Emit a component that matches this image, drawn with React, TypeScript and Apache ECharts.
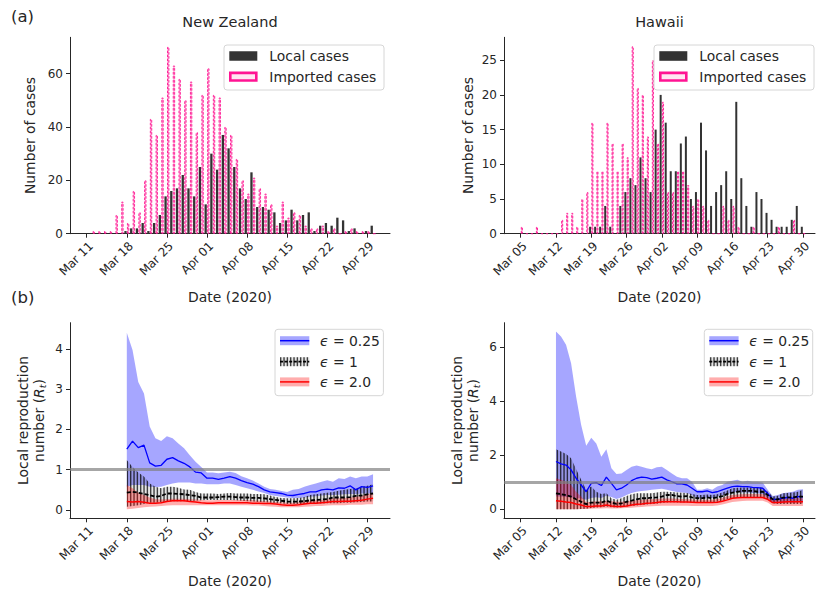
import React, { useEffect, useRef } from "react";
import * as echarts from "echarts";

const FONT = "DejaVu Sans";
const INK = "#262626";
const LABEL_SIZE = 13.9;
const TICK_SIZE = 12;

// Day numbers count from 1 March 2020 (= day 0).
const MONTH_OFFSET: Record<string, number> = { Mar: 0, Apr: 31, May: 61 };
function dayOf(label: string): number {
  const [m, d] = label.split(" ");
  return MONTH_OFFSET[m] + Number(d) - 1;
}
function labelOf(day: number): string {
  const r = Math.round(day);
  let m = "Mar";
  let d = r + 1;
  if (r >= 61) {
    m = "May";
    d = r - 60;
  } else if (r >= 31) {
    m = "Apr";
    d = r - 30;
  }
  return `${m} ${String(d).padStart(2, "0")}`;
}

// ---------- tick labels ----------
const nzTicks = ["Mar 11", "Mar 18", "Mar 25", "Apr 01", "Apr 08", "Apr 15", "Apr 22", "Apr 29"];
const hiTicks = ["Mar 05", "Mar 12", "Mar 19", "Mar 26", "Apr 02", "Apr 09", "Apr 16", "Apr 23", "Apr 30"];

// ---------- daily case counts ----------
const nzCaseStart = "Mar 12";
const nzLocal = [
  0, 0, 0, 0, 0, 0, 1, 2, 2, 4, 1, 4, 7, 14, 16, 17, 22, 17, 14, 25,
  11, 30, 24, 37, 32, 25, 17, 13, 23, 10, 10, 9, 8, 4, 5, 9, 5, 7, 8, 1,
  3, 4, 3, 6, 5, 1, 2, 0, 1, 3,
];
const nzImported = [
  1, 1, 1, 1, 7, 12, 4, 16, 8, 20, 43, 37, 51, 70, 63, 58, 50, 57, 38, 52,
  62, 52, 51, 40, 37, 28, 20, 15, 21, 17, 15, 11, 3, 12, 6, 8, 7, 3, 2, 2,
  3, 1, 2, 0, 1, 2, 1, 1, 1, 0,
];

const hiCaseStart = "Mar 05";
const hiLocal = [
  0, 0, 0, 0, 0, 0, 0, 0, 0, 0, 0, 0, 0, 0, 1, 1, 1, 4, 1, 0,
  4, 6, 8, 7, 11, 8, 6, 15, 20, 16, 9, 9, 13, 14, 5, 6, 16, 12, 4, 6,
  7, 9, 5, 19, 8, 4, 1, 6, 5, 3, 2, 1, 1, 1, 2, 4, 1,
];
const hiImported = [
  1, 0, 0, 1, 0, 0, 0, 0, 2, 3, 3, 1, 5, 6, 16, 9, 9, 16, 13, 9,
  13, 11, 27, 21, 20, 14, 25, 13, 19, 6, 6, 9, 9, 7, 4, 5, 4, 2, 0, 0,
  4, 2, 4, 1, 0, 0, 1, 0, 0, 0, 0, 1, 0, 0, 2, 0, 0,
];

// ---------- local reproduction number, New Zealand (from Mar 18) ----------
const nzRStart = "Mar 18";
const nzEps025Mid = [
  1.51, 1.71, 1.55, 1.61, 1.17, 1.09, 1.11, 1.26, 1.3, 1.22, 1.16, 1.07, 0.94, 0.92,
  0.79, 0.79, 0.76, 0.79, 0.83, 0.79, 0.73, 0.68, 0.64, 0.58, 0.5, 0.45, 0.43, 0.41, 0.37,
  0.36, 0.39, 0.41, 0.45, 0.45, 0.5, 0.52, 0.5, 0.55, 0.54, 0.6, 0.5, 0.58, 0.56, 0.6,
];
const nzEps025Hi = [
  4.4, 3.97, 3.18, 2.89, 2.07, 1.78, 1.71, 1.83, 1.78, 1.65, 1.53, 1.36, 1.2, 1.07,
  0.93, 0.93, 0.91, 0.93, 0.95, 0.92, 0.84, 0.79, 0.73, 0.66, 0.58, 0.52, 0.5, 0.47, 0.45,
  0.5, 0.52, 0.58, 0.62, 0.66, 0.7, 0.74, 0.7, 0.79, 0.77, 0.83, 0.79, 0.83, 0.83, 0.89,
];
const nzEps025Lo = [
  0.58, 0.62, 0.62, 0.62, 0.58, 0.57, 0.58, 0.62, 0.66, 0.68, 0.68, 0.68, 0.66, 0.66,
  0.64, 0.64, 0.64, 0.66, 0.66, 0.62, 0.58, 0.54, 0.5, 0.46, 0.42, 0.37, 0.35, 0.33, 0.31,
  0.3, 0.3, 0.31, 0.33, 0.34, 0.36, 0.37, 0.37, 0.38, 0.39, 0.4, 0.39, 0.41, 0.41, 0.41,
];
const nzEps1Mid = [
  0.43, 0.45, 0.43, 0.4, 0.37, 0.33, 0.35, 0.41, 0.41, 0.4, 0.39, 0.37, 0.35, 0.31,
  0.31, 0.31, 0.32, 0.33, 0.33, 0.32, 0.31, 0.31, 0.3, 0.3, 0.29, 0.27, 0.25, 0.23, 0.21,
  0.21, 0.21, 0.22, 0.24, 0.25, 0.26, 0.27, 0.31, 0.31, 0.31, 0.32, 0.35, 0.36, 0.39, 0.41,
];
const nzEps1Hi = [
  1.24, 1.07, 0.93, 0.83, 0.66, 0.58, 0.54, 0.58, 0.58, 0.55, 0.51, 0.5, 0.45, 0.41,
  0.41, 0.41, 0.4, 0.41, 0.42, 0.41, 0.41, 0.41, 0.4, 0.4, 0.39, 0.36, 0.32, 0.3, 0.29,
  0.29, 0.3, 0.32, 0.37, 0.39, 0.41, 0.43, 0.45, 0.48, 0.5, 0.52, 0.54, 0.57, 0.6, 0.64,
];
const nzEps1Lo = [
  0.08, 0.1, 0.12, 0.15, 0.18, 0.18, 0.19, 0.21, 0.22, 0.22, 0.22, 0.22, 0.23, 0.24,
  0.25, 0.25, 0.25, 0.25, 0.25, 0.24, 0.23, 0.22, 0.21, 0.2, 0.19, 0.18, 0.17, 0.16, 0.15,
  0.15, 0.15, 0.15, 0.16, 0.16, 0.16, 0.17, 0.17, 0.17, 0.18, 0.18, 0.19, 0.2, 0.21, 0.21,
];
const nzEps2Mid = [
  0.21, 0.2, 0.21, 0.19, 0.17, 0.17, 0.18, 0.21, 0.23, 0.23, 0.23, 0.21, 0.2, 0.18,
  0.17, 0.17, 0.18, 0.18, 0.18, 0.18, 0.18, 0.18, 0.17, 0.17, 0.16, 0.16, 0.15, 0.13, 0.12,
  0.12, 0.13, 0.15, 0.17, 0.17, 0.18, 0.19, 0.21, 0.21, 0.22, 0.22, 0.23, 0.24, 0.27, 0.29,
];
const nzEps2Hi = [
  0.62, 0.54, 0.43, 0.37, 0.31, 0.27, 0.26, 0.27, 0.28, 0.28, 0.28, 0.27, 0.26, 0.25,
  0.24, 0.24, 0.25, 0.25, 0.25, 0.25, 0.25, 0.25, 0.24, 0.23, 0.22, 0.21, 0.2, 0.19, 0.18,
  0.18, 0.19, 0.21, 0.23, 0.24, 0.25, 0.26, 0.29, 0.29, 0.3, 0.31, 0.33, 0.35, 0.39, 0.43,
];
const nzEps2Lo = [
  0.02, 0.03, 0.05, 0.07, 0.08, 0.09, 0.1, 0.11, 0.12, 0.12, 0.12, 0.12, 0.12, 0.12,
  0.12, 0.12, 0.12, 0.12, 0.12, 0.12, 0.12, 0.12, 0.11, 0.11, 0.1, 0.09, 0.08, 0.07, 0.07,
  0.07, 0.07, 0.08, 0.09, 0.1, 0.1, 0.11, 0.12, 0.12, 0.12, 0.13, 0.13, 0.13, 0.14, 0.14,
];

// ---------- local reproduction number, Hawaii (from Mar 12) ----------
const hiRStart = "Mar 12";
const hiEps025Mid = [
  1.77, 1.68, 1.64, 1.46, 1.15, 0.9, 0.65, 0.96, 0.99, 0.88, 1.19, 0.96, 0.72, 0.78, 0.9, 1.06, 1.15, 1.19, 1.17, 1.12,
  1.15, 1.19, 1.09, 1.02, 0.94, 0.94, 0.9, 0.78, 0.65, 0.65, 0.68, 0.62, 0.65, 0.72, 0.78,
  0.84, 0.86, 0.84, 0.84, 0.81, 0.8, 0.78, 0.59, 0.37, 0.37, 0.41, 0.44, 0.41, 0.47, 0.47,
];
const hiEps025Hi = [
  6.58, 6.4, 6.09, 5.41, 4.17, 3.12, 2.35, 2.65, 2.44, 1.95, 2.22, 1.52, 1.31, 1.33, 1.46, 1.58, 1.62, 1.58, 1.52, 1.48,
  1.56, 1.58, 1.46, 1.33, 1.21, 1.15, 1.15, 1.02, 0.72, 0.72, 0.78, 0.72, 0.84, 0.9, 1.02,
  1.06, 1.09, 1.02, 1.06, 1.02, 1.02, 0.99, 0.72, 0.49, 0.53, 0.59, 0.62, 0.65, 0.72, 0.74,
];
const hiEps025Lo = [
  0.47, 0.47, 0.46, 0.44, 0.42, 0.4, 0.35, 0.42, 0.45, 0.42, 0.5, 0.46, 0.38, 0.44, 0.53, 0.6, 0.65, 0.68, 0.7, 0.72,
  0.74, 0.76, 0.72, 0.68, 0.64, 0.62, 0.6, 0.52, 0.42, 0.41, 0.44, 0.42, 0.47, 0.52, 0.57,
  0.62, 0.64, 0.62, 0.62, 0.6, 0.59, 0.57, 0.42, 0.22, 0.22, 0.24, 0.26, 0.24, 0.26, 0.26,
];
const hiEps1Mid = [
  0.59, 0.56, 0.52, 0.47, 0.37, 0.28, 0.19, 0.25, 0.25, 0.25, 0.32, 0.25, 0.2, 0.22, 0.28, 0.32, 0.37, 0.41, 0.41, 0.43,
  0.44, 0.47, 0.53, 0.53, 0.49, 0.47, 0.49, 0.44, 0.41, 0.41, 0.44, 0.41, 0.44, 0.49, 0.57,
  0.62, 0.65, 0.68, 0.68, 0.68, 0.65, 0.65, 0.53, 0.37, 0.37, 0.43, 0.44, 0.44, 0.47, 0.47,
];
const hiEps1Hi = [
  2.22, 2.14, 2.05, 1.89, 1.48, 1.09, 0.72, 0.84, 0.65, 0.57, 0.59, 0.41, 0.35, 0.41, 0.49, 0.56, 0.59, 0.59, 0.59, 0.59,
  0.62, 0.65, 0.65, 0.64, 0.62, 0.61, 0.6, 0.57, 0.53, 0.53, 0.55, 0.53, 0.56, 0.62, 0.7,
  0.78, 0.8, 0.81, 0.81, 0.81, 0.81, 0.81, 0.65, 0.47, 0.5, 0.59, 0.6, 0.62, 0.65, 0.72,
];
const hiEps1Lo = [
  0, 0, 0, 0, 0, 0.01, 0.02, 0.05, 0.07, 0.08, 0.1, 0.08, 0.07, 0.08, 0.1, 0.12, 0.14, 0.16, 0.18, 0.2,
  0.21, 0.23, 0.25, 0.26, 0.25, 0.25, 0.25, 0.25, 0.25, 0.25, 0.26, 0.25, 0.28, 0.32, 0.37,
  0.41, 0.43, 0.44, 0.44, 0.44, 0.44, 0.44, 0.35, 0.22, 0.2, 0.2, 0.2, 0.2, 0.2, 0.2,
];
const hiEps2Mid = [
  0.32, 0.3, 0.27, 0.25, 0.2, 0.16, 0.1, 0.1, 0.12, 0.12, 0.16, 0.12, 0.1, 0.1, 0.12, 0.16, 0.19, 0.2, 0.22, 0.23,
  0.25, 0.28, 0.28, 0.28, 0.28, 0.27, 0.27, 0.26, 0.25, 0.25, 0.25, 0.25, 0.26, 0.3, 0.35,
  0.41, 0.43, 0.44, 0.44, 0.44, 0.44, 0.44, 0.37, 0.25, 0.25, 0.27, 0.28, 0.28, 0.28, 0.28,
];
const hiEps2Hi = [
  1.15, 1.09, 1.02, 0.9, 0.65, 0.47, 0.26, 0.28, 0.29, 0.3, 0.32, 0.3, 0.28, 0.28, 0.3, 0.32, 0.34, 0.35, 0.36, 0.37,
  0.38, 0.4, 0.4, 0.4, 0.39, 0.38, 0.37, 0.36, 0.35, 0.35, 0.35, 0.35, 0.38, 0.42, 0.48,
  0.53, 0.55, 0.56, 0.57, 0.57, 0.57, 0.57, 0.48, 0.37, 0.37, 0.39, 0.4, 0.41, 0.41, 0.41,
];
const hiEps2Lo = [
  0, 0, 0, 0, 0, 0.01, 0.01, 0.02, 0.03, 0.03, 0.04, 0.03, 0.03, 0.04, 0.05, 0.06, 0.08, 0.09, 0.1, 0.11,
  0.12, 0.13, 0.13, 0.13, 0.13, 0.13, 0.13, 0.12, 0.12, 0.12, 0.12, 0.12, 0.14, 0.18, 0.22,
  0.27, 0.29, 0.31, 0.32, 0.32, 0.32, 0.32, 0.25, 0.12, 0.12, 0.12, 0.12, 0.12, 0.12, 0.12,
];

// ---------- styling ----------
const LOCAL_COLOR = "#333333";
const IMPORTED_FILL = "#ffa3d1";
const IMPORTED_EDGE = "#ff1493";
const BLUE_BAND = "rgba(0,0,255,0.35)";
const RED_BAND = "rgba(255,0,0,0.32)";

function makeHatch(): HTMLCanvasElement {
  const c = document.createElement("canvas");
  c.width = 10;
  c.height = 10;
  const ctx = c.getContext("2d")!;
  ctx.fillStyle = "rgba(0,0,0,0.10)";
  ctx.fillRect(0, 0, 10, 10);
  ctx.fillStyle = "rgba(0,0,0,0.72)";
  for (const x of [0, 3.33, 6.67]) ctx.fillRect(x, 0, 1.4, 10);
  return c;
}

function dateAxis(grid: number, min: number, max: number, ticks: string[]) {
  const values = ticks.map(dayOf);
  return {
    type: "value",
    gridIndex: grid,
    min,
    max,
    axisLine: { show: true, onZero: false, lineStyle: { color: INK, width: 1 } },
    axisTick: { show: true, customValues: values, length: 4, lineStyle: { color: INK } },
    axisLabel: {
      customValues: values,
      rotate: 45,
      margin: 6,
      align: "right",
      verticalAlign: "top",
      formatter: (v: number) => labelOf(v),
      fontFamily: FONT,
      fontSize: TICK_SIZE,
      color: INK,
    },
    splitLine: { show: false },
    name: "Date (2020)",
    nameLocation: "middle",
    nameGap: 56,
    nameTextStyle: { fontFamily: FONT, fontSize: LABEL_SIZE, color: INK },
  };
}

function valueAxis(grid: number, min: number, max: number, ticks: number[], name: string, nameGap: number) {
  return {
    type: "value",
    gridIndex: grid,
    min,
    max,
    axisLine: { show: true, onZero: false, lineStyle: { color: INK, width: 1 } },
    axisTick: { show: true, customValues: ticks, length: 4, lineStyle: { color: INK } },
    axisLabel: { customValues: ticks, margin: 7, fontFamily: FONT, fontSize: TICK_SIZE, color: INK },
    splitLine: { show: false },
    name,
    nameLocation: "middle",
    nameRotate: 90,
    nameGap,
    nameTextStyle: {
      fontFamily: FONT,
      fontSize: LABEL_SIZE,
      color: INK,
      lineHeight: 16,
      rich: {
        i: { fontFamily: FONT, fontSize: LABEL_SIZE, fontStyle: "italic", color: INK },
        s: { fontFamily: FONT, fontSize: 9.5, fontStyle: "italic", color: INK, padding: [6, 0, 0, 0] },
      },
    },
  };
}

function barSeries(axis: number, start: string, values: number[], width: number, itemStyle: any) {
  const d0 = dayOf(start);
  return {
    type: "bar",
    xAxisIndex: axis,
    yAxisIndex: axis,
    data: values.map((v, i) => [d0 + i, v]),
    barWidth: width,
    barGap: "15%",
    itemStyle,
    silent: true,
    z: 2,
  };
}

function lineSeries(axis: number, start: string, values: number[], lineStyle: any, z: number, extra: any = {}) {
  const d0 = dayOf(start);
  return {
    type: "line",
    xAxisIndex: axis,
    yAxisIndex: axis,
    data: values.map((v, i) => [d0 + i, v]),
    showSymbol: false,
    symbol: "none",
    lineStyle,
    silent: true,
    z,
    ...extra,
  };
}

// A shaded interval between two daily curves, drawn as one polygon.
function bandSeries(axis: number, start: string, lo: number[], hi: number[], fill: any, z: number) {
  const d0 = dayOf(start);
  const pts = lo.map((v, i) => [d0 + i, v, hi[i]]);
  return {
    type: "custom",
    xAxisIndex: axis,
    yAxisIndex: axis,
    data: pts,
    encode: { x: 0, y: [1, 2] },
    silent: true,
    z,
    renderItem: (params: any, api: any) => {
      if (params.dataIndex !== 0) return { type: "group", children: [] };
      const top = pts.map((p) => api.coord([p[0], p[2]]));
      const bottom = pts.map((p) => api.coord([p[0], p[1]])).reverse();
      return {
        type: "polygon",
        shape: { points: top.concat(bottom) },
        style: { fill, stroke: null },
      };
    },
  };
}

function textEl(x: number, y: number, text: string, size: number, align = "left", rich?: any) {
  return {
    type: "text",
    x,
    y,
    silent: true,
    style: {
      text,
      fill: INK,
      fontFamily: FONT,
      fontSize: size,
      align,
      verticalAlign: "middle",
      rich,
    },
  };
}

function caseLegend(x: number) {
  return [
    {
      type: "rect",
      shape: { x, y: 45, width: 160, height: 45, r: 3 },
      style: { fill: "rgba(255,255,255,0.85)", stroke: "#d6d6d6", lineWidth: 1 },
      silent: true,
      z: 20,
    },
    { type: "rect", shape: { x: x + 5.3, y: 51.2, width: 28, height: 9.6 }, style: { fill: LOCAL_COLOR }, silent: true, z: 21 },
    {
      type: "rect",
      shape: { x: x + 6.3, y: 72.9, width: 26, height: 7.6 },
      style: { fill: "#ffe6f2", stroke: IMPORTED_EDGE, lineWidth: 2.6 },
      silent: true,
      z: 21,
    },
    { ...textEl(x + 45.3, 56, "Local cases", LABEL_SIZE), z: 21 },
    { ...textEl(x + 45.3, 76.7, "Imported cases", LABEL_SIZE), z: 21 },
  ];
}

function rLegend(x: number, hatch: any) {
  const rich = { i: { fontFamily: FONT, fontSize: LABEL_SIZE, fontStyle: "italic", fill: INK } };
  const rows = [
    { y: 340.7, fill: BLUE_BAND, line: "#0000ff", dash: null as any, text: "{i|ϵ} = 0.25" },
    { y: 361.7, fill: hatch, line: "#000000", dash: [3, 1.6], text: "{i|ϵ} = 1" },
    { y: 381.9, fill: RED_BAND, line: "#ff0000", dash: null as any, text: "{i|ϵ} = 2.0" },
  ];
  const els: any[] = [
    {
      type: "rect",
      shape: { x, y: 329.3, width: 108.4, height: 66.4, r: 3 },
      style: { fill: "rgba(255,255,255,0.85)", stroke: "#d6d6d6", lineWidth: 1 },
      silent: true,
      z: 20,
    },
  ];
  rows.forEach((r) => {
    els.push({
      type: "rect",
      shape: { x: x + 5, y: r.y - 4.5, width: 29.3, height: 9 },
      style: { fill: r.fill },
      silent: true,
      z: 21,
    });
    els.push({
      type: "line",
      shape: { x1: x + 5, y1: r.y, x2: x + 34.3, y2: r.y },
      style: { stroke: r.line, lineWidth: r.dash ? 1.8 : 1.5, lineDash: r.dash },
      silent: true,
      z: 22,
    });
    els.push({ ...textEl(x + 45, r.y, r.text, LABEL_SIZE, "left", rich), z: 22 });
  });
  return els;
}

function buildOption() {
  const hatchCanvas = makeHatch();
  const hatch = { image: hatchCanvas, repeat: "repeat" };

  const nzMin = 7.08;
  const nzMax = 62.96;
  const hiMin = 0.69;
  const hiMax = 62.39;

  const rName = "Local reproduction\nnumber ({i|R}{s|t})";
  const greyLine = {
    markLine: {
      silent: true,
      symbol: ["none", "none"],
      label: { show: false },
      lineStyle: { color: "rgba(128,128,128,0.7)", width: 3, type: "solid" },
      data: [{ yAxis: 1 }],
    },
  };

  const importedStyle = {
    color: IMPORTED_FILL,
    borderColor: IMPORTED_EDGE,
    borderWidth: 0.9,
    borderType: [2.5, 1.5],
  };

  return {
    animation: false,
    backgroundColor: "#ffffff",
    textStyle: { fontFamily: FONT },
    grid: [
      { left: 70, top: 37.3, width: 320, height: 196.4 },
      { left: 504, top: 37.3, width: 311, height: 196.4 },
      { left: 70, top: 322.7, width: 320, height: 195.6 },
      { left: 504, top: 322.7, width: 311, height: 195.6 },
    ],
    xAxis: [
      dateAxis(0, nzMin, nzMax, nzTicks),
      dateAxis(1, hiMin, hiMax, hiTicks),
      dateAxis(2, nzMin, nzMax, nzTicks),
      dateAxis(3, hiMin, hiMax, hiTicks),
    ],
    yAxis: [
      valueAxis(0, 0, 73.6, [0, 20, 40, 60], "Number of cases", 32),
      valueAxis(1, 0, 28.3, [0, 5, 10, 15, 20, 25], "Number of cases", 28),
      valueAxis(2, -0.206, 4.65, [0, 1, 2, 3, 4], rName, 23),
      valueAxis(3, -0.333, 6.91, [0, 2, 4, 6], rName, 23),
    ],
    series: [
      barSeries(0, nzCaseStart, nzLocal, 2.3, { color: LOCAL_COLOR }),
      barSeries(0, nzCaseStart, nzImported, 2.3, importedStyle),
      barSeries(1, hiCaseStart, hiLocal, 2.0, { color: LOCAL_COLOR }),
      barSeries(1, hiCaseStart, hiImported, 2.0, importedStyle),

      bandSeries(2, nzRStart, nzEps025Lo, nzEps025Hi, BLUE_BAND, 1),
      bandSeries(2, nzRStart, nzEps1Lo, nzEps1Hi, hatch, 2),
      bandSeries(2, nzRStart, nzEps2Lo, nzEps2Hi, RED_BAND, 3),
      lineSeries(2, nzRStart, nzEps025Mid, { color: "#0000ff", width: 1.3 }, 4),
      lineSeries(2, nzRStart, nzEps1Mid, { color: "#000000", width: 1.8, type: [4, 2] }, 5),
      lineSeries(2, nzRStart, nzEps2Mid, { color: "#ff0000", width: 1.5 }, 6, greyLine),

      bandSeries(3, hiRStart, hiEps025Lo, hiEps025Hi, BLUE_BAND, 1),
      bandSeries(3, hiRStart, hiEps1Lo, hiEps1Hi, hatch, 2),
      bandSeries(3, hiRStart, hiEps2Lo, hiEps2Hi, RED_BAND, 3),
      lineSeries(3, hiRStart, hiEps025Mid, { color: "#0000ff", width: 1.3 }, 4),
      lineSeries(3, hiRStart, hiEps1Mid, { color: "#000000", width: 1.8, type: [4, 2] }, 5),
      lineSeries(3, hiRStart, hiEps2Mid, { color: "#ff0000", width: 1.5 }, 6, greyLine),
    ],
    graphic: [
      textEl(230, 22, "New Zealand", 14.5, "center"),
      textEl(659.5, 22, "Hawaii", 14.5, "center"),
      textEl(11, 16, "(a)", 16.5),
      textEl(11, 297, "(b)", 16.5),
      ...caseLegend(224),
      ...caseLegend(654),
      ...rLegend(275, hatch),
      ...rLegend(704.3, hatch),
    ],
  };
}

export default function App() {
  const ref = useRef<HTMLDivElement>(null);
  useEffect(() => {
    if (!ref.current) return;
    const chart = echarts.init(ref.current, undefined, { renderer: "svg" });
    chart.setOption(buildOption() as any);
    return () => chart.dispose();
  }, []);
  return (
    <div
      ref={ref}
      style={{ position: "fixed", left: 0, top: 0, width: 817, height: 596, background: "#fff" }}
    />
  );
}
